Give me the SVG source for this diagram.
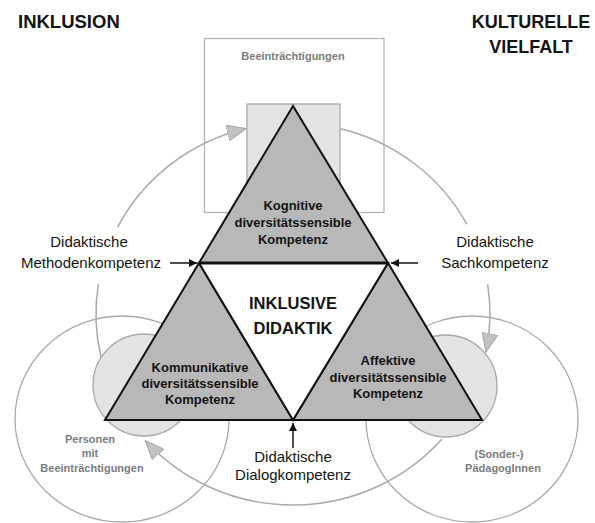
<svg xmlns="http://www.w3.org/2000/svg" width="595" height="523" viewBox="0 0 595 523">
<style>
.h{font-family:"Liberation Sans",Arial,sans-serif;font-weight:bold;fill:#141414}
.lab{font-family:"Liberation Sans",Arial,sans-serif;font-size:15px;fill:#141414;text-anchor:middle}
.tri{font-family:"Liberation Sans",Arial,sans-serif;font-weight:bold;font-size:13px;fill:#141414;text-anchor:middle}
.grey{font-family:"Liberation Sans",Arial,sans-serif;font-weight:bold;font-size:11px;fill:#7c7c7c;text-anchor:middle}
.ring{fill:none;stroke:#a9a9a9;stroke-width:1.3}
.soft{fill:#e3e3e3;stroke:#a9a9a9;stroke-width:1.3}
.arc{fill:none;stroke:#a9a9a9;stroke-width:1.5}
.tr{fill:#b8b8b8;stroke:#111;stroke-width:2;stroke-linejoin:miter}
.blk{stroke:#111;stroke-width:1.5;fill:none}
</style>
<defs>
<marker id="ga" markerUnits="userSpaceOnUse" markerWidth="20" markerHeight="16" refX="19" refY="8" orient="auto">
<path d="M0,0 L19,8 L0,16 Z" fill="#c2c2c2" stroke="#a5a5a5" stroke-width="1"/>
</marker>
<marker id="ba" markerUnits="userSpaceOnUse" markerWidth="9" markerHeight="8" refX="8" refY="4" orient="auto">
<path d="M0,0 L8,4 L0,8 Z" fill="#111"/>
</marker>
</defs>

<g id="title-inklusion"><text class="h" x="18" y="28" font-size="18.5">INKLUSION</text></g>
<g id="title-vielfalt">
<text class="h" x="531" y="28" font-size="18" text-anchor="middle">KULTURELLE</text>
<text class="h" x="531" y="53" font-size="18" text-anchor="middle">VIELFALT</text>
</g>

<g id="beeintraechtigungen">
<rect x="204.5" y="38.5" width="179.5" height="174" fill="#fff" stroke="#b3b3b3" stroke-width="1.3"/>
<text class="grey" x="293" y="60" font-size="11.5">Beeinträchtigungen</text>
</g>

<g id="personen">
<ellipse class="ring" cx="122" cy="419" rx="107" ry="103"/>
<circle class="soft" cx="144" cy="385" r="51"/>
<text class="grey" x="90" y="443">Personen</text>
<text class="grey" x="90" y="457">mit</text>
<text class="grey" x="92" y="472">Beeinträchtigungen</text>
</g>

<g id="paedagogen">
<ellipse class="ring" cx="472" cy="419" rx="106" ry="103"/>
<circle class="soft" cx="446" cy="386" r="51"/>
<text class="grey" x="499" y="458">(Sonder-)</text>
<text class="grey" x="503" y="472">PädagogInnen</text>
</g>

<g id="inner-square"><rect class="soft" x="247" y="104" width="93" height="110"/></g>

<g id="connectors">
<path class="arc" d="M101,357 A197,191 0 0 1 98.4,284.1"/>
<path class="arc" d="M117.5,227.3 A197,191 0 0 1 246,128.5" marker-end="url(#ga)"/>
<path class="arc" d="M340.7,128.7 A197,191 0 0 1 466.9,224.3"/>
<path class="arc" d="M487.6,284.1 A197,191 0 0 1 486,352.1" marker-end="url(#ga)"/>
<path class="arc" d="M441.7,439.3 A197,191 0 0 1 145.4,440.6" marker-end="url(#ga)"/>
<line class="blk" x1="170" y1="263" x2="197" y2="263" marker-end="url(#ba)"/>
<line class="blk" x1="418" y1="263" x2="391" y2="263" marker-end="url(#ba)"/>
<line class="blk" x1="293" y1="448" x2="293" y2="423" marker-end="url(#ba)"/>
</g>

<g id="kognitiv">
<polygon class="tr" points="293,106 199,263 388,263"/>
<text class="tri" x="293" y="210">Kognitive</text>
<text class="tri" x="293" y="227">diversitätssensible</text>
<text class="tri" x="293" y="244">Kompetenz</text>
</g>
<g id="kommunikativ">
<polygon class="tr" points="199,263 105,420 293,420"/>
<text class="tri" x="200" y="372">Kommunikative</text>
<text class="tri" x="200" y="388">diversitätssensible</text>
<text class="tri" x="200" y="404">Kompetenz</text>
</g>
<g id="affektiv">
<polygon class="tr" points="388,263 293,420 482,420"/>
<text class="tri" x="388" y="365">Affektive</text>
<text class="tri" x="388" y="382">diversitätssensible</text>
<text class="tri" x="388" y="398">Kompetenz</text>
</g>
<g id="inklusive-didaktik">
<polygon points="199,263 388,263 293,420" fill="#fff" stroke="#111" stroke-width="2"/>
<line x1="199" y1="263" x2="388" y2="263" stroke="#111" stroke-width="3"/>
<text class="h" x="293" y="309" font-size="16.5" text-anchor="middle">INKLUSIVE</text>
<text class="h" x="293" y="334" font-size="16.5" text-anchor="middle">DIDAKTIK</text>
</g>

<g id="methodenkompetenz">
<text class="lab" x="89" y="247">Didaktische</text>
<text class="lab" x="91" y="268">Methodenkompetenz</text>
</g>
<g id="sachkompetenz">
<text class="lab" x="495" y="247">Didaktische</text>
<text class="lab" x="495" y="268">Sachkompetenz</text>
</g>
<g id="dialogkompetenz">
<text class="lab" x="293" y="462">Didaktische</text>
<text class="lab" x="293" y="480">Dialogkompetenz</text>
</g>
</svg>
